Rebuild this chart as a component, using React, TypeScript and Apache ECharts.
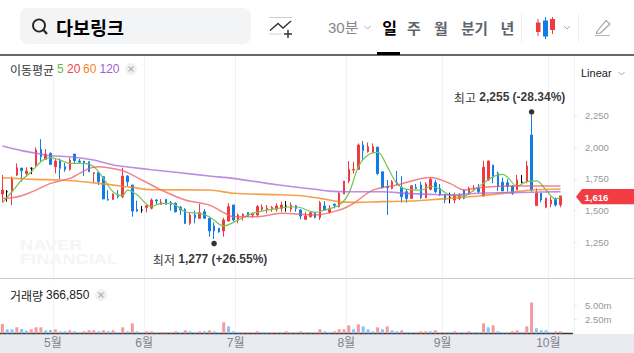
import React, { useEffect, useRef } from "react";
import * as echarts from "echarts";

const opens = [1631,1649,1649,1780,1835,1793,1833,1859,1982,1903,1951,1846,1898,1846,1825,1945,1890,1890,1885,1793,1799,1767,1589,1589,1618,1610,1772,1702,1510,1505,1526,1519,1584,1550,1589,1566,1558,1527,1511,1401,1466,1440,1492,1440,1380,1362,1341,1419,1545,1427,1458,1485,1466,1466,1511,1506,1516,1511,1519,1537,1513,1539,1505,1432,1453,1479,1445,1537,1487,1550,1531,1631,1733,1820,1825,2016,1964,1958,2000,1806,1689,1675,1720,1683,1649,1597,1683,1702,1602,1668,1720,1676,1624,1605,1584,1597,1663,1632,1663,1676,1616,1741,1859,1794,1723,1720,1694,1663,1723,1728,2095,1540,1637,1527,1553,1592,1545];
const closes = [1662,1649,1749,1838,1814,1812,1833,1977,1924,1945,1864,1890,1833,1825,1898,1893,1882,1872,1806,1799,1728,1592,1584,1631,1610,1772,1728,1497,1497,1505,1539,1584,1576,1566,1550,1550,1492,1506,1401,1466,1445,1485,1440,1341,1341,1333,1427,1532,1427,1466,1472,1458,1479,1532,1527,1519,1527,1537,1545,1537,1544,1518,1458,1458,1484,1448,1563,1505,1518,1542,1636,1733,1825,1825,2016,1972,2003,2003,1793,1681,1681,1728,1710,1610,1597,1696,1675,1602,1710,1747,1650,1624,1584,1605,1616,1624,1597,1676,1676,1650,1841,1891,1763,1689,1655,1689,1637,1742,1723,1852,1663,1637,1584,1597,1584,1545,1616];
const lows = [1563,1571,1544,1772,1728,1767,1788,1846,1885,1898,1859,1793,1746,1806,1814,1872,1872,1772,1806,1723,1702,1592,1579,1584,1597,1597,1694,1453,1492,1484,1487,1511,1550,1545,1548,1500,1485,1466,1396,1388,1401,1440,1435,1296,1277,1327,1296,1414,1414,1401,1422,1453,1445,1453,1492,1479,1492,1492,1492,1492,1492,1492,1432,1427,1445,1440,1427,1505,1479,1518,1526,1631,1715,1793,1820,1898,1956,1951,1780,1675,1466,1668,1702,1563,1563,1592,1668,1592,1597,1660,1637,1616,1558,1558,1558,1584,1590,1624,1650,1637,1611,1736,1715,1655,1655,1650,1624,1663,1715,1715,1650,1540,1566,1519,1527,1532,1527];
const highs = [1780,1662,1767,1872,1835,1841,1841,1998,2063,1985,1958,1911,1911,1877,1917,1945,1906,1890,1885,1801,1806,1767,1662,1636,1662,1838,1780,1702,1579,1537,1544,1597,1592,1592,1592,1576,1566,1537,1519,1485,1500,1553,1513,1445,1409,1362,1445,1558,1545,1479,1479,1485,1485,1545,1550,1545,1537,1558,1571,1576,1565,1544,1513,1492,1497,1492,1576,1576,1544,1558,1649,1733,1890,1885,2029,2048,2037,2029,2000,1806,1741,1741,1812,1772,1662,1702,1710,1728,1723,1763,1742,1710,1632,1642,1642,1637,1668,1689,1702,1710,1894,1894,1859,1807,1760,1747,1702,1781,1781,1891,2255,1676,1637,1603,1611,1605,1616];

const volumes = [1.68,0.72,0.72,1.08,0.78,0.48,0.72,1.08,1.08,0.54,0.6,0.72,0.36,0.36,0.54,0.36,0.18,0.36,0.54,0.54,0.36,0.54,0.36,0.54,0.18,1.08,0.36,1.8,0.36,0.18,0.36,0.36,0.18,0.18,0.18,0.18,0.36,0.18,0.54,0.36,0.18,0.36,0.36,0.54,0.36,0.18,1.98,1.26,0.36,0.18,0.18,0.18,0.18,0.36,0.18,0.18,0.18,0.18,0.18,0.36,0.18,0.18,0.36,0.18,0.18,0.18,0.72,0.36,0.18,0.36,0.72,0.72,1.44,0.72,1.62,1.26,0.72,0.36,1.08,0.72,1.26,0.54,0.36,0.54,0.18,0.18,0.18,0.36,0.36,0.36,0.54,0.18,0.18,0.18,0.36,0.18,0.18,0.36,0.18,0.18,1.8,1.08,1.44,0.36,0.18,0.18,0.36,0.54,0.18,1.26,5.58,0.9,0.54,0.54,0.18,0.36,0.367];
const volumeDirs = "RBBRBBRRRBBRBBRBBRRRBRBRBRBRBBRRBRRBRBRBBRBRBBRBBBRRRRBBRRBRRBRRBR".slice(0, 66) + "RBBRRRRBRBBBRBRBBRBBRRRBRBRBRBBRBBRBRBBBRRBRRBBBBRR";

const ma5: [number, number][] = [[0,1563],[2,1649],[4,1741],[6,1806],[8,1885],[10,1917],[12,1898],[14,1872],[17,1872],[19,1846],[21,1754],[23,1649],[25,1618],[26,1662],[28,1625],[31,1532],[33,1558],[35,1558],[38,1492],[41,1479],[43,1453],[46,1380],[49,1427],[52,1479],[56,1511],[61,1531],[65,1487],[67,1505],[70,1544],[72,1636],[74,1846],[76,1938],[78,1958],[80,1846],[82,1715],[84,1668],[87,1662],[89,1692],[91,1668],[93,1624],[96,1616],[98,1663],[100,1715],[102,1768],[104,1786],[105,1763],[107,1694],[109,1728],[111,1734],[113,1663],[115,1590],[116,1605]];
const ma20: [number, number][] = [[0,1597],[2,1602],[4,1618],[7,1662],[10,1715],[14,1754],[18,1833],[20,1846],[25,1814],[27,1780],[29,1741],[31,1702],[33,1663],[38,1584],[43,1545],[46,1485],[48,1453],[53,1453],[58,1479],[65,1466],[70,1505],[73,1558],[77,1662],[82,1702],[89,1761],[93,1715],[96,1663],[99,1681],[106,1694],[116,1694]];
const ma60: [number, number][] = [[0,1759],[7,1746],[12,1741],[20,1715],[27,1683],[31,1665],[43,1663],[48,1637],[58,1625],[62,1618],[66,1597],[70,1571],[73,1565],[79,1571],[85,1576],[89,1586],[93,1597],[99,1616],[103,1632],[110,1663],[116,1671]];
const ma120: [number, number][] = [[0,2008],[4,1972],[8,1945],[10,1932],[14,1924],[19,1898],[23,1859],[27,1840],[31,1822],[36,1802],[43,1773],[48,1754],[55,1715],[60,1690],[65,1668],[68,1654],[72,1649],[79,1649],[84,1636],[89,1628],[93,1624],[99,1637],[106,1642],[116,1650]];

const monthIndices = [11, 30, 49, 72, 92, 114];
const monthNames = ["5월", "6월", "7월", "8월", "9월", "10월"];
const priceTicks = [1250, 1500, 1750, 2000, 2250];
const volumeTicks = [2.5, 5];
const highPoint: [number, number] = [110, 2276];
const lowPoint: [number, number] = [44, 1242];
const LAST_PRICE = "1,616";

const RED = "#ef3a42";
const BLUE = "#0f7ce8";
const KR = "'Liberation Sans','Noto Sans CJK KR',sans-serif";
const KRF = "'Noto Sans CJK KR','Liberation Sans',sans-serif";
const GRID = "#eff1f5";

function text(t: string, x: number, y: number, size: number, fill: string, opts: any = {}) {
  const { weight = "normal", align = "left", family = KRF, z = 10, scaleX = 1 } = opts;
  return {
    type: "text", x, y, z, scaleX, silent: true,
    style: { text: t, fill, font: `${weight} ${size}px ${family}`, align, textAlign: align, verticalAlign: "middle", textVerticalAlign: "middle" },
  };
}
const line = (x1: number, y1: number, x2: number, y2: number, stroke: string, lineWidth = 1, z = 10) => ({
  type: "line", z, silent: true, shape: { x1, y1, x2, y2 }, style: { stroke, lineWidth },
});
const rect = (x: number, y: number, width: number, height: number, fill: string, z = 10, r = 0) => ({
  type: "rect", z, silent: true, shape: { x, y, width, height, r }, style: { fill },
});
const chevron = (x: number, y: number) => ({
  type: "polyline", z: 10, silent: true,
  shape: { points: [[x - 3, y - 1.5], [x, y + 1.5], [x + 3, y - 1.5]] },
  style: { stroke: "#a6a9ae", lineWidth: 1, fill: "none" },
});
const closeBtn = (x: number, y: number) => [
  { type: "circle", z: 10, silent: true, shape: { cx: x, cy: y, r: 6 }, style: { fill: "#f0f0f0" } },
  line(x - 2.5, y - 2.5, x + 2.5, y + 2.5, "#b5b5b5", 1.2),
  line(x - 2.5, y + 2.5, x + 2.5, y - 2.5, "#b5b5b5", 1.2),
];

const graphicElements: any[] = [
  rect(0, 334, 634, 19, "#e9ebf1", -1),
  rect(0, 56, 140, 20, "#fff", 1),
  rect(0, 281, 120, 19, "#fff", 1),
  line(0, 55, 634, 55, "#33363b", 1.4),
  line(0, 278.5, 634, 278.5, "#c9cdd9", 1),
  rect(377, 52, 23, 3, "#000"),
  rect(20, 8, 231, 36, "#f3f4f6", 9, 8),
  { type: "circle", z: 10, silent: true, shape: { cx: 39, cy: 25.5, r: 6 }, style: { fill: "none", stroke: "#222", lineWidth: 1.8 } },
  line(43.5, 30, 47, 34, "#222", 2),
  text("다보링크", 56, 27, 18.5, "#000", { weight: "bold" }),
  line(269, 17.5, 292, 17.5, "#cfcfcf", 1),
  line(269, 34, 282, 34, "#cfcfcf", 1),
  { type: "polyline", z: 10, silent: true, shape: { points: [[270, 30.5], [278, 23.5], [283, 28], [291, 21]] }, style: { stroke: "#333", lineWidth: 1.4, fill: "none" } },
  line(288, 30, 288, 38, "#333", 1.5),
  line(284, 34, 292, 34, "#333", 1.5),
  text("30분", 328, 27, 15, "#85888e", { family: KR }),
  chevron(367.5, 27.5),
  text("일", 389.5, 27, 16, "#000", { weight: "bold", align: "center" }),
  text("주", 414, 27, 15, "#5f646b", { weight: "bold", align: "center" }),
  text("월", 441, 27, 15, "#5f646b", { weight: "bold", align: "center" }),
  text("분기", 474.5, 27, 14.5, "#5f646b", { weight: "bold", align: "center" }),
  text("년", 507.5, 27, 15, "#5f646b", { weight: "bold", align: "center" }),
  line(521.5, 14, 521.5, 42, "#efefef", 1),
  line(538, 19, 538, 36, RED, 1),
  rect(536, 22.5, 4.5, 9.5, RED),
  line(545.5, 17, 545.5, 39, BLUE, 1),
  rect(543, 20.5, 5, 16, BLUE),
  line(552.5, 17, 552.5, 34, RED, 1),
  rect(550, 19, 5, 11, RED),
  chevron(567, 27.5),
  line(578.5, 14, 578.5, 42, "#efefef", 1),
  { type: "polygon", z: 10, silent: true, shape: { points: [[596.5, 32], [606, 20.5], [610, 24], [600.5, 33], [596.5, 33.5]] }, style: { fill: "none", stroke: "#9a9da2", lineWidth: 1.1 } },
  line(595, 35.5, 610, 35.5, "#b5b7bb", 1),
  text("이동평균", 10, 69, 12, "#333"),
  text("5", 57, 69, 12, "#62bd3e", { family: KR }),
  text("20", 67, 69, 12, "#ef4249", { family: KR }),
  text("60", 83, 69, 12, "#f5861f", { family: KR }),
  text("120", 99.5, 69, 12, "#a45fd1", { family: KR }),
  ...closeBtn(131, 69),
  text("거래량", 10, 295, 12, "#222"),
  text("366,850", 46, 295, 12, "#222", { family: KR }),
  ...closeBtn(101, 295),
  text("Linear", 581, 73, 11, "#222", { family: KR }),
  chevron(621.5, 73.5),
  text("NAVER", 20, 244.5, 14, "#f4f5f7", { weight: "bold", family: KR, z: 1, scaleX: 1.3 }),
  text("FINANCIAL", 20, 258.5, 14, "#f4f5f7", { weight: "bold", family: KR, z: 1, scaleX: 1.3 }),
  { type: "polygon", z: 10, silent: true, shape: { points: [[576, 196.7], [582, 189], [634, 189], [634, 204.3], [582, 204.3]] }, style: { fill: "#f03c42" } },
  text(LAST_PRICE, 584.5, 197, 9.5, "#fff", { family: KR, weight: "bold" }),
];

const categories = opens.map((_, i) => `${i}`);
const candleData = opens.map((o, i) => [o, closes[i], lows[i], highs[i]]);
const volumeData = volumes.map((v, i) => ({ value: v, itemStyle: { color: volumeDirs[i] === "R" ? "#f49b9f" : "#8cc2f7" } }));
const isMonth = (i: number) => monthIndices.includes(i);
const monthLabel = (v: string) => monthNames[monthIndices.indexOf(Number(v))] ?? "";

const richStyles = {
  a: { fontFamily: KRF, fontSize: 12, color: "#000" },
  b: { fontFamily: KR, fontSize: 12, color: "#000", fontWeight: "bold" as const },
};

const maLine = (name: string, data: [number, number][], color: string, width: number, opacity: number) => ({
  name, type: "line", data, smooth: 0.35, symbol: "none", z: 3, clip: true,
  lineStyle: { color, width, opacity }, silent: true,
});

const option: any = {
  animation: false,
  backgroundColor: "#fff",
  grid: [
    { left: -1.1, width: 573.58, top: 56, height: 222 },
    { left: -1.1, width: 573.58, top: 279, height: 54.3 },
  ],
  xAxis: [
    {
      type: "category", gridIndex: 0, data: [...categories, "a", "b"], boundaryGap: true,
      axisLine: { show: false }, axisTick: { show: false }, axisLabel: { show: false },
      splitLine: { show: true, showMaxLine: false, interval: (i: number) => isMonth(i), lineStyle: { color: GRID, width: 1 } },
    },
    {
      type: "category", gridIndex: 1, data: [...categories, "a", "b"], boundaryGap: true,
      axisLine: { show: true, lineStyle: { color: "#33363b", width: 1.4 } }, axisTick: { show: false },
      axisLabel: {
        interval: (i: number) => isMonth(i), formatter: monthLabel, color: "#7f838b", fontSize: 12,
        fontFamily: KR, margin: 4, padding: [0, 5, 0, 0],
      },
      splitLine: { show: true, showMaxLine: false, interval: (i: number) => isMonth(i), lineStyle: { color: GRID, width: 1 } },
    },
  ],
  yAxis: [
    {
      type: "value", gridIndex: 0, position: "right", offset: 1.5, min: 970.8, max: 2716.2, scale: true,
      splitLine: { show: false },
      axisLine: { show: true, lineStyle: { color: "#f0f2f5" } },
      axisTick: { show: true, length: 3, lineStyle: { color: "#e3e7ee" }, customValues: priceTicks },
      axisLabel: {
        customValues: priceTicks, align: "left", margin: 11, fontSize: 9.5, fontFamily: KR, color: "#94989f",
        formatter: (v: number) => v.toLocaleString("en-US"),
      },
    },
    {
      type: "value", gridIndex: 1, position: "right", offset: 1.5, min: 0, max: 9.83,
      splitLine: { show: false },
      axisLine: { show: true, lineStyle: { color: "#f0f2f5" } },
      axisTick: { show: true, length: 3, lineStyle: { color: "#e3e7ee" }, customValues: volumeTicks },
      axisLabel: {
        customValues: volumeTicks, align: "left", margin: 11, fontSize: 9.5, fontFamily: KR, color: "#94989f",
        formatter: (v: number) => `${v.toFixed(2)}m`,
      },
    },
  ],
  series: [
    {
      name: "candle", type: "candlestick", xAxisIndex: 0, yAxisIndex: 0, data: candleData, barWidth: 2, z: 2,
      itemStyle: { color: RED, color0: BLUE, borderColor: RED, borderColor0: BLUE, borderColorDoji: "#000", borderWidth: 1 },
    },
    maLine("MA5", ma5, "#74c653", 1.2, 1),
    maLine("MA20", ma20, "#f0595f", 1.5, 0.75),
    maLine("MA60", ma60, "#f58a22", 1.6, 0.8),
    maLine("MA120", ma120, "#a865d6", 1.6, 0.75),
    {
      name: "high", type: "scatter", xAxisIndex: 0, yAxisIndex: 0, data: [highPoint], symbolSize: 5.5, z: 5,
      itemStyle: { color: "#000" },
      label: {
        show: true, position: "top", distance: 6, offset: [-22, 0],
        formatter: "{a|최고} {b|2,255} {b|(-28.34%)}", rich: richStyles,
      },
    },
    {
      name: "low", type: "scatter", xAxisIndex: 0, yAxisIndex: 0, data: [lowPoint], symbolSize: 5.5, z: 5,
      itemStyle: { color: "#000" },
      label: {
        show: true, position: "bottom", distance: 7, offset: [-4, 0],
        formatter: "{a|최저} {b|1,277} {b|(+26.55%)}", rich: richStyles,
      },
    },
    {
      name: "volume", type: "bar", xAxisIndex: 1, yAxisIndex: 1, data: volumeData, barWidth: 3, z: 2,
    },
  ],
  graphic: { elements: graphicElements },
};

export default function App() {
  const ref = useRef<HTMLDivElement>(null);
  useEffect(() => {
    const chart = echarts.init(ref.current!, undefined, { renderer: "svg" });
    chart.setOption(option);
    return () => chart.dispose();
  }, []);
  return <div ref={ref} style={{ position: "absolute", left: 0, top: 0, width: 634, height: 353 }} />;
}
